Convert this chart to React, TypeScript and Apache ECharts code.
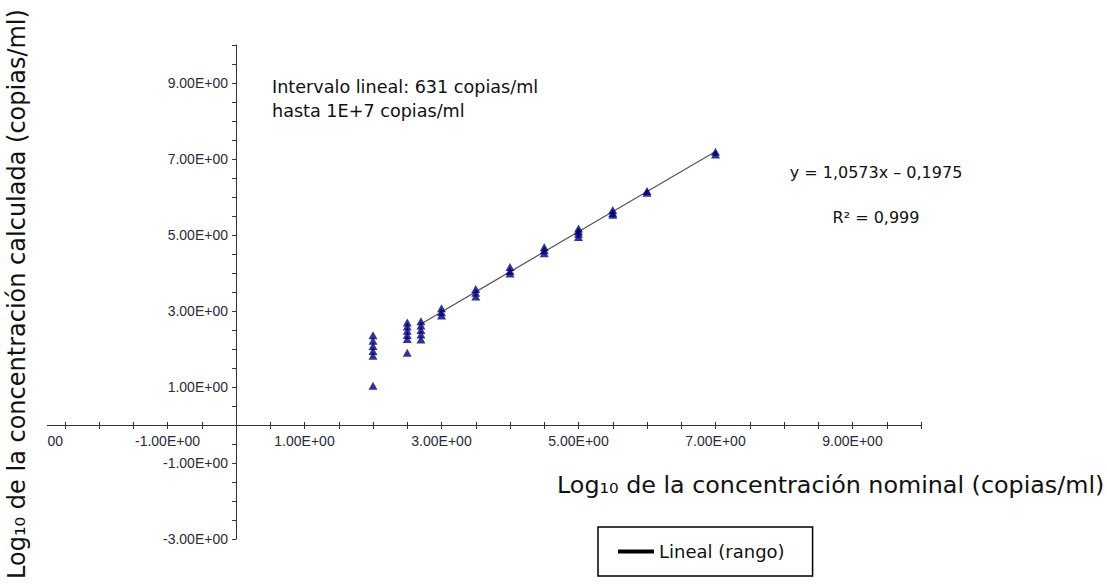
import React, { useEffect, useRef } from "react";
import * as echarts from "echarts";

// Nominal concentration levels (log10 copies/ml)
const nominalLevels = [2, 2.5, 2.7, 3, 3.5, 4, 4.5, 5, 5.5, 6, 7];
// Calculated concentrations (log10 copies/ml) for each nominal level
const calculatedValues: number[][] = [
  [2.36, 2.22, 2.08, 1.95, 1.82, 1.03],
  [2.7, 2.59, 2.48, 2.37, 2.26, 1.9],
  [2.73, 2.62, 2.5, 2.38, 2.25],
  [3.07, 2.97, 2.88],
  [3.58, 3.48, 3.38],
  [4.16, 4.05, 3.99],
  [4.68, 4.6, 4.52],
  [5.17, 5.1, 5.03, 4.95],
  [5.66, 5.58, 5.53],
  [6.16, 6.11],
  [7.19, 7.12],
];
// Linear trend line (rango) endpoints
const trendX = [2.7, 7];
const trendY = [2.66, 7.2];

const legendName = "Lineal (rango)";
const annotationLines = ["Intervalo lineal: 631 copias/ml", "hasta 1E+7 copias/ml"];
const equationText = "y = 1,0573x \u2013 0,1975";
const r2Text = "R\u00b2 = 0,999";
const xTitle = "Log\u2081\u2080 de la concentración nominal (copias/ml)";
const yTitle = "Log\u2081\u2080 de la concentración calculada (copias/ml)";

const fmt = (v: number) =>
  Number.isInteger(v) && Math.abs(v) % 2 === 1 ? v.toFixed(2) + "E+00" : "";

const GRID_LEFT = 30.5;
const GRID_TOP = 45;
const GRID_W = 890.5;
const GRID_H = 494;
const AX_MIN = -3;
const AX_MAX = 10;

export default function App() {
  const ref = useRef<HTMLDivElement>(null);
  useEffect(() => {
    document.body.style.margin = "0";
    const chart = echarts.init(ref.current!, null, { renderer: "svg" });
    const points: number[][] = [];
    nominalLevels.forEach((x, i) => calculatedValues[i].forEach((y) => points.push([x, y])));
    const trend = trendX.map((x, i) => [x, trendY[i]]);
    // offsets that move the axes to the zero lines
    const zeroFromBottom = (GRID_H * (0 - AX_MIN)) / (AX_MAX - AX_MIN);
    const zeroFromTop = GRID_H - zeroFromBottom;
    const zeroFromLeft = (GRID_W * (0 - AX_MIN)) / (AX_MAX - AX_MIN);
    const labelStyle = {
      fontSize: 14,
      fontFamily: "Liberation Sans",
      color: "#2a2a3a",
    };
    chart.setOption({
      animation: false,
      backgroundColor: "#fff",
      grid: {
        left: GRID_LEFT,
        top: GRID_TOP,
        width: GRID_W,
        height: GRID_H,
        outerBoundsMode: "none",
        containLabel: false,
      },
      xAxis: [
        {
          type: "value",
          min: AX_MIN,
          max: AX_MAX,
          interval: 0.5,
          position: "bottom",
          offset: -zeroFromBottom,
          axisLine: { onZero: false, lineStyle: { color: "#333", width: 1 } },
          axisTick: { show: true, length: 4, lineStyle: { color: "#333" } },
          axisLabel: { ...labelStyle, formatter: fmt, margin: 9 },
          splitLine: { show: false },
        },
        {
          type: "value",
          min: AX_MIN,
          max: AX_MAX,
          interval: 0.5,
          position: "top",
          offset: -zeroFromTop,
          axisLine: { show: false, onZero: false },
          axisTick: { show: true, length: 3, lineStyle: { color: "#333" } },
          axisLabel: { show: false },
          splitLine: { show: false },
        },
      ],
      yAxis: {
        type: "value",
        min: AX_MIN,
        max: AX_MAX,
        interval: 0.5,
        position: "left",
        offset: -zeroFromLeft,
        axisLine: { onZero: false, lineStyle: { color: "#333", width: 1 } },
        axisTick: { show: true, length: 4, lineStyle: { color: "#333" } },
        axisLabel: { ...labelStyle, formatter: fmt, margin: 8 },
        splitLine: { show: false },
      },
      legend: {
        left: 598,
        top: 527,
        orient: "horizontal",
        borderColor: "#000",
        borderWidth: 1.5,
        padding: [14, 28, 14, 20],
        itemWidth: 36,
        itemHeight: 4,
        textStyle: { fontSize: 18, fontFamily: "DejaVu Sans", color: "#111", lineHeight: 21 },
        data: [{ name: legendName, icon: "rect", itemStyle: { color: "#000" } }],
      },
      series: [
        {
          name: legendName,
          type: "line",
          data: trend,
          showSymbol: false,
          symbol: "none",
          lineStyle: { color: "#555", width: 1.2 },
          z: 2,
        },
        {
          name: "Datos",
          type: "scatter",
          data: points,
          symbol: "triangle",
          symbolSize: [9, 8],
          itemStyle: { color: "#00007a" },
          z: 3,
        },
      ],
      graphic: [
        {
          type: "rect",
          z: 100,
          shape: { x: 0, y: 0, width: 47, height: 584 },
          style: { fill: "#fff" },
        },
        {
          type: "text",
          z: 101,
          x: 17,
          y: 294,
          rotation: Math.PI / 2,
          style: {
            text: yTitle,
            align: "center",
            verticalAlign: "middle",
            fontSize: 24,
            fontFamily: "DejaVu Sans",
            fill: "#111",
          },
        },
        {
          type: "text",
          z: 101,
          x: 557,
          y: 485,
          style: {
            text: xTitle,
            align: "left",
            verticalAlign: "middle",
            fontSize: 23.8,
            fontFamily: "DejaVu Sans",
            fill: "#111",
          },
        },
        {
          type: "text",
          z: 101,
          x: 272,
          y: 87,
          style: {
            text: annotationLines[0],
            align: "left",
            verticalAlign: "middle",
            fontSize: 17.6,
            fontFamily: "DejaVu Sans",
            fill: "#111",
          },
        },
        {
          type: "text",
          z: 101,
          x: 272,
          y: 111,
          style: {
            text: annotationLines[1],
            align: "left",
            verticalAlign: "middle",
            fontSize: 17.6,
            fontFamily: "DejaVu Sans",
            fill: "#111",
          },
        },
        {
          type: "text",
          z: 101,
          x: 876,
          y: 172,
          style: {
            text: equationText,
            align: "center",
            verticalAlign: "middle",
            fontSize: 16,
            fontFamily: "DejaVu Sans",
            fill: "#111",
          },
        },
        {
          type: "text",
          z: 101,
          x: 876,
          y: 217,
          style: {
            text: r2Text,
            align: "center",
            verticalAlign: "middle",
            fontSize: 16,
            fontFamily: "DejaVu Sans",
            fill: "#111",
          },
        },
      ],
    });
    return () => chart.dispose();
  }, []);
  return <div ref={ref} style={{ width: 1107, height: 584 }} />;
}
